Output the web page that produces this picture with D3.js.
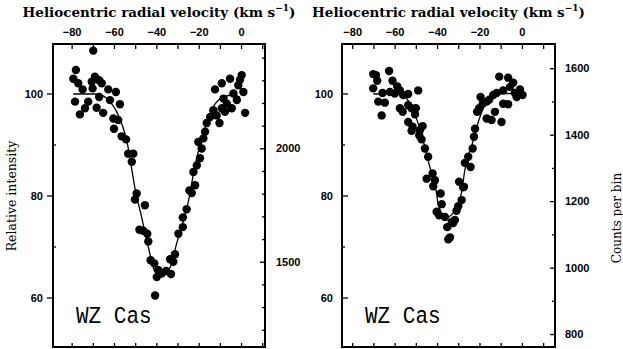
<!DOCTYPE html>
<html>
<head>
<meta charset="utf-8">
<script src="https://cdn.jsdelivr.net/npm/d3@7"></script>
<style>
  body { margin: 0; background: #fff; }
  svg { display: block; }
  .tick text { font-family: "Liberation Sans", Arial, sans-serif; font-weight: bold; font-size: 11px; fill: #000; }
  .tick line { stroke: #000; stroke-width: 1.3px; }
</style>
</head>
<body>
<svg width="623" height="349"></svg>
<script>
// ---- data ----
const leftV = [-69.8,-78.0,-79.2,-76.9,-74.8,-78.4,-76.1,-73.7,-72.2,-70.5,-69.0,-67.0,-65.8,-70.1,-68.2,-65.1,-67.0,-62.7,-61.9,-59.1,
  -57.2,-60.3,-58.0,-60.0,-56.4,-54.3,-53.3,-50.9,-51.6,-49.3,-50.1,-45.4,-48.0,-46.2,-44.3,-43.8,-42.7,-41.0,-39.1,-39.8,
  -37.5,-35.4,-33.1,-40.6,-33.5,-31.2,-32.0,-29.6,-27.5,-27.5,-25.7,-24.4,-23.3,-21.7,-22.5,-20.9,-19.4,-18.6,-20.2,-17.8,
  -17.0,-16.2,-14.6,-13.1,-10.2,-11.5,-9.1,-7.6,-6.7,-4.4,-2.0,-3.6,-1.3,1.1,0.3,-0.5,-5.2,-9.1,-12.3,1.9,-8.3];
const leftI = [108.4,104.6,102.9,102.0,100.8,98.4,95.9,97.1,98.4,102.3,103.3,102.6,102.0,101.0,97.2,96.2,99.3,100.8,98.7,100.3,
  97.9,95.1,94.8,93.1,91.6,91.0,88.2,88.2,86.6,80.4,79.2,78.1,73.3,73.1,72.5,71.0,67.3,66.7,65.4,64.0,
  64.7,65.2,64.6,60.4,67.5,68.5,67.0,72.5,73.8,75.7,77.3,81.0,80.5,82.0,84.6,85.9,87.3,89.2,90.5,91.2,
  92.5,94.2,95.4,96.7,94.2,95.7,97.1,96.4,98.0,97.1,98.7,100.0,101.6,100.3,103.6,102.7,102.9,102.0,100.8,96.2,99.0];
const leftFitV = [-79.2,-68.2,-61.9,-58.7,-54.0,-49.3,-47.7,-43.8,-40.6,-38.3,-33.5,-30.4,-24.1,-22.5,-17.8,-13.1,-8.4,-3.6,-0.5];
const leftFitI = [99.9,99.9,98.4,96.4,90.8,79.7,77.1,69.9,65.0,64.4,65.9,70.6,80.4,84.3,92.2,97.4,99.3,99.7,99.3];

const rightV = [-70.1,-68.8,-68.2,-62.6,-70.1,-65.7,-67.7,-64.6,-66.1,-61.0,-62.2,-59.9,-58.8,-57.5,-56.0,-53.6,-48.9,-57.5,-56.2,-53.6,
  -52.0,-50.0,-50.4,-53.6,-51.5,-52.0,-48.1,-46.8,-48.4,-47.3,-45.7,-44.2,-44.9,-42.1,-41.0,-41.8,-38.3,-37.8,-40.2,-39.0,
  -36.3,-35.2,-33.1,-31.6,-33.9,-34.7,-32.4,-30.8,-30.0,-28.4,-27.7,-29.6,-27.3,-26.9,-25.3,-24.2,-23.2,-22.6,-22.1,-21.1,
  -20.1,-19.5,-18.5,-16.6,-15.4,-13.5,-11.9,-10.7,-6.5,-4.1,-5.6,-8.8,-0.9,0.3,-2.5,-8.8,-6.5,-12.7,-16.6,-14.3,-9.6,-3.3];
const rightI = [103.8,103.6,102.5,104.4,101.0,100.1,98.4,98.2,95.7,102.5,100.3,100.0,101.4,100.6,99.7,99.9,100.6,97.1,96.4,97.7,
  97.1,97.1,95.9,94.4,93.5,92.7,92.8,93.6,91.8,91.0,89.2,87.6,83.3,84.3,83.0,81.8,80.4,78.3,76.8,76.1,
  75.8,73.8,74.8,75.2,71.8,71.4,74.6,77.0,77.9,79.1,81.6,82.7,81.7,86.4,87.6,85.6,89.2,91.5,93.1,96.4,
  97.1,99.3,98.0,98.4,98.8,99.7,100.1,103.3,103.1,102.1,101.3,100.6,100.8,99.7,99.3,98.0,97.9,96.4,95.1,94.8,94.4,100.1];
const rightFitV = [-70.0,-57.5,-52.0,-48.1,-43.4,-40.2,-39.4,-35.5,-31.6,-28.4,-26.9,-22.9,-19.8,-15.9,-10.4,-1.0];
const rightFitI = [99.9,100.0,97.4,93.1,85.6,80.4,78.1,75.7,77.1,80.7,85.0,90.8,95.4,98.7,100.0,100.0];

const xMajor = [-80, -60, -40, -20, 0];
const xMinor = [-70, -50, -30, -10, 10];
const iMajor = [60, 80, 100];
const iMinor = [70, 90];
const leftCountsMajor = [1500, 2000];
const leftCountsMinor = [1200, 1300, 1400, 1600, 1700, 1800, 1900, 2100, 2200, 2300, 2400];
const rightCountsMajor = [800, 1000, 1200, 1400, 1600];
const rightCountsMinor = [900, 1100, 1300, 1500];

const xTitle = "Heliocentric radial velocity (km s";
const starName = "WZ Cas";

// ---- layout ----
const svg = d3.select("svg");
const plotTop = 44, plotBottom = 347;
const fmt = d => d < 0 ? "\u2212" + Math.abs(d) : String(d);

const panels = [
  { left: 53, right: 265, xDom: [-88.8, 11.3], cDom: [1124, 2460],
    v: leftV, I: leftI, fv: leftFitV, fi: leftFitI,
    cMajor: leftCountsMajor, cMinor: leftCountsMinor, iTick: 6, iPad: 4, cPad: 11 },
  { left: 342, right: 555, xDom: [-84.8, 15.6], cDom: [761, 1673],
    v: rightV, I: rightI, fv: rightFitV, fi: rightFitI,
    cMajor: rightCountsMajor, cMinor: rightCountsMinor, iTick: -6, iPad: 9, cPad: 10 }
];

panels.forEach(p => {
  const x = d3.scaleLinear().domain(p.xDom).range([p.left, p.right]);
  const y = d3.scaleLinear().domain([50.3, 109.7]).range([plotBottom, plotTop]);
  const yc = d3.scaleLinear().domain(p.cDom).range([plotBottom, plotTop]);
  const g = svg.append("g");
  const inX = d => d < p.xDom[1];

  // top axis
  g.append("g").attr("transform", `translate(0,${plotTop})`)
    .call(d3.axisTop(x).tickValues(xMajor).tickSize(-5).tickPadding(8).tickFormat(fmt));
  g.append("g").attr("transform", `translate(0,${plotTop})`)
    .call(d3.axisTop(x).tickValues(xMinor.filter(inX)).tickSize(-5).tickFormat(""));
  // bottom axis, ticks only
  g.append("g").attr("transform", `translate(0,${plotBottom})`)
    .call(d3.axisBottom(x).tickValues(xMajor.concat(xMinor).filter(inX)).tickSize(-4).tickFormat(""));
  // intensity axis
  g.append("g").attr("transform", `translate(${p.left},0)`)
    .call(d3.axisLeft(y).tickValues(iMajor).tickSize(p.iTick).tickPadding(p.iPad));
  g.append("g").attr("transform", `translate(${p.left},0)`)
    .call(d3.axisLeft(y).tickValues(iMinor).tickSize(-3).tickFormat(""));
  // counts axis
  g.append("g").attr("transform", `translate(${p.right},0)`)
    .call(d3.axisRight(yc).tickValues(p.cMajor).tickSize(-5).tickPadding(p.cPad).tickFormat(d3.format("d")));
  g.append("g").attr("transform", `translate(${p.right},0)`)
    .call(d3.axisRight(yc).tickValues(p.cMinor).tickSize(-3).tickFormat(""));
  g.selectAll(".domain").remove();

  // frame
  g.append("rect").attr("x", p.left).attr("y", plotTop)
    .attr("width", p.right - p.left).attr("height", plotBottom - plotTop)
    .attr("fill", "none").attr("stroke", "#000").attr("stroke-width", 2);

  // fitted profile
  const line = d3.line().x(d => x(d[0])).y(d => y(d[1])).curve(d3.curveMonotoneX);
  g.append("path").datum(d3.zip(p.fv, p.fi))
    .attr("d", line).attr("fill", "none").attr("stroke", "#000").attr("stroke-width", 1.3);

  // points
  g.selectAll("circle").data(d3.zip(p.v, p.I)).enter().append("circle")
    .attr("cx", d => x(d[0])).attr("cy", d => y(d[1])).attr("r", 4.2).attr("fill", "#000");

  // title
  const t = g.append("text").attr("x", (p.left + p.right) / 2).attr("y", 17)
    .attr("text-anchor", "middle")
    .style("font-family", "'DejaVu Serif', serif").style("font-weight", "bold").style("font-size", "13.5px");
  t.append("tspan").text(xTitle);
  t.append("tspan").attr("dy", -6).style("font-size", "9px").text("\u22121");
  t.append("tspan").attr("dy", 6).text(")");

  g.append("text").attr("transform", `translate(${p.left + 23},323) scale(1,1.17)`)
    .style("font-family", "'Liberation Mono', monospace").style("font-size", "21px")
    .text(starName);
});

svg.append("text").attr("transform", "translate(16,196) rotate(-90)")
  .attr("text-anchor", "middle")
  .style("font-family", "'DejaVu Serif', serif").style("font-size", "12.5px")
  .text("Relative intensity");
svg.append("text").attr("transform", "translate(621,218) rotate(-90)")
  .attr("text-anchor", "middle")
  .style("font-family", "'DejaVu Serif', serif").style("font-size", "12px")
  .text("Counts per bin");
</script>
</body>
</html>
